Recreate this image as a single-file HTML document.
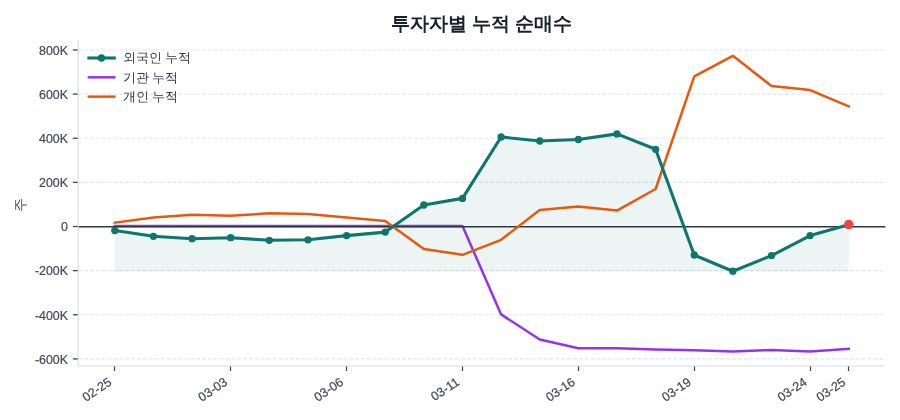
<!DOCTYPE html>
<html lang="ko"><head><meta charset="utf-8"><title>투자자별 누적 순매수</title>
<style>
html,body{margin:0;padding:0;background:#fff;}
body{width:900px;height:420px;overflow:hidden;}
svg{display:block;will-change:transform;}
text{font-family:"Liberation Sans",sans-serif;}
.tl{fill:#434c5e;stroke:#434c5e;stroke-width:0.22px;}
</style></head><body>
<svg width="900" height="420" viewBox="0 0 900 420">
<rect width="900" height="420" fill="#ffffff"/>
<polygon points="114.80,230.50 153.43,236.30 192.06,238.70 230.69,237.70 269.32,240.30 307.95,239.80 346.58,235.60 385.21,232.10 423.84,205.00 462.47,198.40 501.10,137.00 539.73,141.00 578.36,139.50 616.99,133.90 655.62,149.30 694.25,255.00 732.88,271.20 771.51,255.60 810.14,235.60 848.77,224.60 848.77,271.20 114.80,271.20" fill="#0f766e" fill-opacity="0.08"/>
<line x1="78.1" y1="358.92" x2="885.4" y2="358.92" stroke="#8a93a5" stroke-opacity="0.24" stroke-width="1.11" stroke-dasharray="4.11 1.78"/>
<line x1="78.1" y1="314.78" x2="885.4" y2="314.78" stroke="#8a93a5" stroke-opacity="0.24" stroke-width="1.11" stroke-dasharray="4.11 1.78"/>
<line x1="78.1" y1="270.64" x2="885.4" y2="270.64" stroke="#8a93a5" stroke-opacity="0.24" stroke-width="1.11" stroke-dasharray="4.11 1.78"/>
<line x1="78.1" y1="226.50" x2="885.4" y2="226.50" stroke="#8a93a5" stroke-opacity="0.24" stroke-width="1.11" stroke-dasharray="4.11 1.78"/>
<line x1="78.1" y1="182.36" x2="885.4" y2="182.36" stroke="#8a93a5" stroke-opacity="0.24" stroke-width="1.11" stroke-dasharray="4.11 1.78"/>
<line x1="78.1" y1="138.22" x2="885.4" y2="138.22" stroke="#8a93a5" stroke-opacity="0.24" stroke-width="1.11" stroke-dasharray="4.11 1.78"/>
<line x1="78.1" y1="94.08" x2="885.4" y2="94.08" stroke="#8a93a5" stroke-opacity="0.24" stroke-width="1.11" stroke-dasharray="4.11 1.78"/>
<line x1="78.1" y1="49.94" x2="885.4" y2="49.94" stroke="#8a93a5" stroke-opacity="0.24" stroke-width="1.11" stroke-dasharray="4.11 1.78"/>
<polyline points="114.80,225.90 153.43,225.90 192.06,225.90 230.69,225.90 269.32,225.90 307.95,225.90 346.58,225.90 385.21,225.90 423.84,225.90 462.47,225.90 501.10,314.40 539.73,339.50 578.36,348.30 616.99,348.30 655.62,349.60 694.25,350.30 732.88,351.40 771.51,349.90 810.14,351.40 848.77,348.90" fill="none" stroke="#9333ea" stroke-width="2.5" stroke-linejoin="round" stroke-linecap="square"/>
<line x1="78.1" y1="226.7" x2="885.4" y2="226.7" stroke="#2d3748" stroke-width="1.5"/>
<polyline points="114.80,222.70 153.43,217.50 192.06,214.70 230.69,215.70 269.32,213.30 307.95,213.90 346.58,217.40 385.21,221.00 423.84,249.00 462.47,254.80 501.10,239.80 539.73,210.00 578.36,206.60 616.99,210.60 655.62,189.00 694.25,76.30 732.88,55.80 771.51,86.00 810.14,90.10 848.77,106.40" fill="none" stroke="#ea580c" stroke-width="2.5" stroke-linejoin="round" stroke-linecap="square"/>
<polyline points="114.80,230.50 153.43,236.30 192.06,238.70 230.69,237.70 269.32,240.30 307.95,239.80 346.58,235.60 385.21,232.10 423.84,205.00 462.47,198.40 501.10,137.00 539.73,141.00 578.36,139.50 616.99,133.90 655.62,149.30 694.25,255.00 732.88,271.20 771.51,255.60 810.14,235.60 848.77,224.60" fill="none" stroke="#0f766e" stroke-width="3.1" stroke-linejoin="round" stroke-linecap="square"/>
<circle cx="114.80" cy="230.50" r="3.65" fill="#0f766e"/>
<circle cx="153.43" cy="236.30" r="3.65" fill="#0f766e"/>
<circle cx="192.06" cy="238.70" r="3.65" fill="#0f766e"/>
<circle cx="230.69" cy="237.70" r="3.65" fill="#0f766e"/>
<circle cx="269.32" cy="240.30" r="3.65" fill="#0f766e"/>
<circle cx="307.95" cy="239.80" r="3.65" fill="#0f766e"/>
<circle cx="346.58" cy="235.60" r="3.65" fill="#0f766e"/>
<circle cx="385.21" cy="232.10" r="3.65" fill="#0f766e"/>
<circle cx="423.84" cy="205.00" r="3.65" fill="#0f766e"/>
<circle cx="462.47" cy="198.40" r="3.65" fill="#0f766e"/>
<circle cx="501.10" cy="137.00" r="3.65" fill="#0f766e"/>
<circle cx="539.73" cy="141.00" r="3.65" fill="#0f766e"/>
<circle cx="578.36" cy="139.50" r="3.65" fill="#0f766e"/>
<circle cx="616.99" cy="133.90" r="3.65" fill="#0f766e"/>
<circle cx="655.62" cy="149.30" r="3.65" fill="#0f766e"/>
<circle cx="694.25" cy="255.00" r="3.65" fill="#0f766e"/>
<circle cx="732.88" cy="271.20" r="3.65" fill="#0f766e"/>
<circle cx="771.51" cy="255.60" r="3.65" fill="#0f766e"/>
<circle cx="810.14" cy="235.60" r="3.65" fill="#0f766e"/>
<circle cx="848.77" cy="224.60" r="3.65" fill="#0f766e"/>
<circle cx="848.77" cy="224.60" r="4.75" fill="#ef4444"/>
<line x1="72.90" y1="49.94" x2="78.1" y2="49.94" stroke="#3a4356" stroke-width="1.3"/>
<text x="68.00" y="54.74" font-size="12.4" class="tl" text-anchor="end">800K</text>
<line x1="72.90" y1="94.08" x2="78.1" y2="94.08" stroke="#3a4356" stroke-width="1.3"/>
<text x="68.00" y="98.88" font-size="12.4" class="tl" text-anchor="end">600K</text>
<line x1="72.90" y1="138.22" x2="78.1" y2="138.22" stroke="#3a4356" stroke-width="1.3"/>
<text x="68.00" y="143.02" font-size="12.4" class="tl" text-anchor="end">400K</text>
<line x1="72.90" y1="182.36" x2="78.1" y2="182.36" stroke="#3a4356" stroke-width="1.3"/>
<text x="68.00" y="187.16" font-size="12.4" class="tl" text-anchor="end">200K</text>
<line x1="72.90" y1="226.50" x2="78.1" y2="226.50" stroke="#3a4356" stroke-width="1.3"/>
<text x="68.00" y="231.30" font-size="12.4" class="tl" text-anchor="end">0</text>
<line x1="72.90" y1="270.64" x2="78.1" y2="270.64" stroke="#3a4356" stroke-width="1.3"/>
<text x="68.00" y="275.44" font-size="12.4" class="tl" text-anchor="end">-200K</text>
<line x1="72.90" y1="314.78" x2="78.1" y2="314.78" stroke="#3a4356" stroke-width="1.3"/>
<text x="68.00" y="319.58" font-size="12.4" class="tl" text-anchor="end">-400K</text>
<line x1="72.90" y1="358.92" x2="78.1" y2="358.92" stroke="#3a4356" stroke-width="1.3"/>
<text x="68.00" y="363.72" font-size="12.4" class="tl" text-anchor="end">-600K</text>
<line x1="114.50" y1="366.0" x2="114.50" y2="371.00" stroke="#3a4356" stroke-width="1.2"/>
<text transform="translate(112.50,384.00) rotate(-34)" x="0" y="0" font-size="12.5" class="tl" text-anchor="end">02-25</text>
<line x1="230.50" y1="366.0" x2="230.50" y2="371.00" stroke="#3a4356" stroke-width="1.2"/>
<text transform="translate(228.39,384.00) rotate(-34)" x="0" y="0" font-size="12.5" class="tl" text-anchor="end">03-03</text>
<line x1="346.50" y1="366.0" x2="346.50" y2="371.00" stroke="#3a4356" stroke-width="1.2"/>
<text transform="translate(344.28,384.00) rotate(-34)" x="0" y="0" font-size="12.5" class="tl" text-anchor="end">03-06</text>
<line x1="462.50" y1="366.0" x2="462.50" y2="371.00" stroke="#3a4356" stroke-width="1.2"/>
<text transform="translate(460.17,384.00) rotate(-34)" x="0" y="0" font-size="12.5" class="tl" text-anchor="end">03-11</text>
<line x1="578.50" y1="366.0" x2="578.50" y2="371.00" stroke="#3a4356" stroke-width="1.2"/>
<text transform="translate(576.06,384.00) rotate(-34)" x="0" y="0" font-size="12.5" class="tl" text-anchor="end">03-16</text>
<line x1="694.50" y1="366.0" x2="694.50" y2="371.00" stroke="#3a4356" stroke-width="1.2"/>
<text transform="translate(691.95,384.00) rotate(-34)" x="0" y="0" font-size="12.5" class="tl" text-anchor="end">03-19</text>
<line x1="810.50" y1="366.0" x2="810.50" y2="371.00" stroke="#3a4356" stroke-width="1.2"/>
<text transform="translate(807.84,384.00) rotate(-34)" x="0" y="0" font-size="12.5" class="tl" text-anchor="end">03-24</text>
<line x1="848.50" y1="366.0" x2="848.50" y2="371.00" stroke="#3a4356" stroke-width="1.2"/>
<text transform="translate(846.47,384.00) rotate(-34)" x="0" y="0" font-size="12.5" class="tl" text-anchor="end">03-25</text>
<line x1="78.1" y1="40.7" x2="78.1" y2="366.0" stroke="#d5dbe3" stroke-width="1.1"/>
<line x1="77.6" y1="366.0" x2="885.4" y2="366.0" stroke="#d5dbe3" stroke-width="1.1"/>
<text transform="translate(25,205) rotate(-90)" x="0" y="0" font-size="13.9" fill="#4a5568" text-anchor="middle">주</text>
<text x="481.6" y="30" font-size="19.44" font-weight="bold" fill="#1a202c" text-anchor="middle">투자자별 누적 순매수</text>
<line x1="88.9" y1="58.00" x2="114.3" y2="58.00" stroke="#0f766e" stroke-width="3.1" stroke-linecap="square"/>
<circle cx="101.5" cy="58.00" r="3.65" fill="#0f766e"/>
<text x="123" y="62.40" font-size="12.5" fill="#2d3748">외국인 누적</text>
<line x1="88.9" y1="77.33" x2="114.3" y2="77.33" stroke="#9333ea" stroke-width="2.5" stroke-linecap="square"/>
<text x="123" y="81.73" font-size="12.5" fill="#2d3748">기관 누적</text>
<line x1="88.9" y1="96.66" x2="114.3" y2="96.66" stroke="#ea580c" stroke-width="2.5" stroke-linecap="square"/>
<text x="123" y="101.06" font-size="12.5" fill="#2d3748">개인 누적</text>
</svg>
</body></html>
